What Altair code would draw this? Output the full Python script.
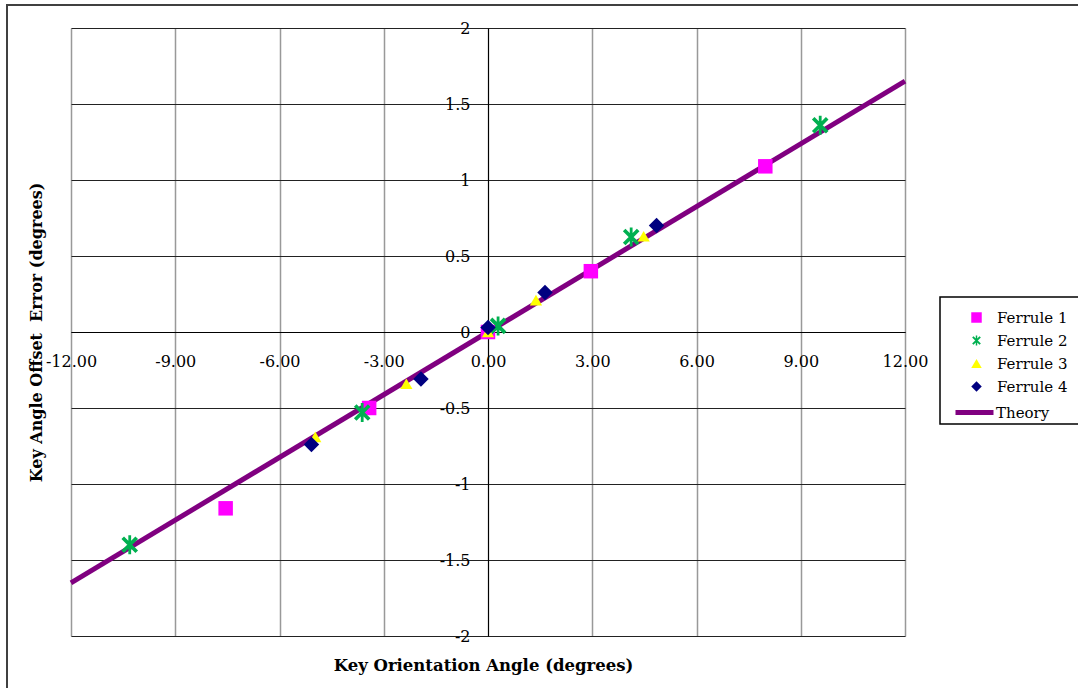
import altair as alt
import pandas as pd

# ---- data ----
x_ticks = [-12, -9, -6, -3, 0, 3, 6, 9, 12]
y_ticks = [-2, -1.5, -1, -0.5, 0, 0.5, 1, 1.5, 2]

series_names = ["Ferrule 1", "Ferrule 2", "Ferrule 3", "Ferrule 4"]
series_colors = ["#FF00FF", "#00B050", "#FFFF00", "#000080"]

f1_x = [-7.55, -3.42, 0.0, 2.96, 7.98]
f1_y = [-1.16, -0.50, 0.0, 0.40, 1.09]
f2_x = [-10.31, -3.62, 0.29, 4.12, 9.56]
f2_y = [-1.40, -0.53, 0.04, 0.625, 1.36]
f3_x = [-4.97, -2.35, 0.0, 1.38, 4.48]
f3_y = [-0.69, -0.34, 0.0, 0.21, 0.63]
f4_x = [-5.08, -1.93, 0.0, 1.64, 4.85]
f4_y = [-0.74, -0.31, 0.03, 0.26, 0.70]

theory_x = [-12, 12]
theory_y = [-1.65, 1.65]

rows = []
for name, xs, ys in zip(series_names, [f1_x, f2_x, f3_x, f4_x], [f1_y, f2_y, f3_y, f4_y]):
    for xv, yv in zip(xs, ys):
        rows.append({"series": name, "x": xv, "y": yv})
pts = pd.DataFrame(rows)
theory = pd.DataFrame({"x": theory_x, "y": theory_y, "series": ["Theory"] * len(theory_x)})
one = pd.DataFrame({"a": [0]})

W, H = 834, 608
FONT = "DejaVu Serif"
# filled asterisk (vertical bar + two diagonals), all sub-paths wound the same way
ASTERISK = (
    "M-0.14,-0.95L0.14,-0.95L0.14,0.95L-0.14,0.95Z"
    "M-0.57,-0.83L0.83,0.57L0.57,0.83L-0.83,-0.57Z"
    "M-0.83,0.57L0.57,-0.83L0.83,-0.57L-0.57,0.83Z"
)
marker_shapes = ["square", ASTERISK, "triangle-up", "diamond"]
marker_sizes = [210, 400, 150, 240]

xscale = alt.Scale(domain=[-12, 12], nice=False, zero=False)
yscale = alt.Scale(domain=[-2, 2], nice=False, zero=False)

x_axis = alt.Axis(
    values=x_ticks, orient="bottom", offset=-H / 2,
    labelExpr="(datum.value < 0 ? '-' : '') + format(abs(datum.value), '.2f')",
    labelFont=FONT, labelFontSize=16, labelColor="black", labelPadding=21,
    labelOverlap=False, labelFlush=False, labelBound=False,
    ticks=False, domainColor="black", domainWidth=1,
    grid=True, gridColor="#999999", gridWidth=1.5,
    title="Key Orientation Angle (degrees)", titleFont=FONT, titleFontSize=16.5,
    titleFontWeight="bold", titleColor="black", titleX=412, titleY=333,
    titleBaseline="middle",
)
y_axis = alt.Axis(
    values=y_ticks, orient="left", offset=-W / 2,
    labelExpr="datum.value < 0 ? '-' + abs(datum.value) : '' + datum.value",
    labelFont=FONT, labelFontSize=16, labelColor="black", labelPadding=18,
    labelOverlap=False, labelFlush=False, labelBound=False, labelBaseline="middle",
    ticks=False, domainColor="black", domainWidth=1,
    grid=True, gridColor="#222222", gridWidth=1,
    title="Key Angle Offset \u00a0Error (degrees)", titleFont=FONT, titleFontSize=16,
    titleFontWeight="bold", titleColor="black", titleX=-452, titleY=H / 2,
    titleAngle=270, titleBaseline="middle",
)

frame = alt.Chart(one).mark_rect(filled=False, stroke="#404040", strokeWidth=2).encode(
    x=alt.value(-64), x2=alt.value(1300), y=alt.value(-23), y2=alt.value(900)
)
legend_box = alt.Chart(one).mark_rect(filled=False, stroke="black", strokeWidth=1.5).encode(
    x=alt.value(869), x2=alt.value(1020), y=alt.value(269), y2=alt.value(396)
)

line = alt.Chart(theory).mark_line(strokeWidth=5).encode(
    x=alt.X("x:Q", scale=xscale, axis=x_axis),
    y=alt.Y("y:Q", scale=yscale, axis=y_axis),
    stroke=alt.Stroke(
        "series:N",
        scale=alt.Scale(domain=["Theory"], range=["#800080"]),
        legend=alt.Legend(
            title=None, orient="none", legendX=882, legendY=363,
            symbolType="stroke", symbolSize=1444, symbolStrokeWidth=5,
            labelOffset=0, padding=0, labelFont=FONT, labelFontSize=15, labelColor="black",
        ),
    ),
)

pt_legend = alt.Legend(
    title=None, orient="none", legendX=898, legendY=282,
    symbolSize=110, rowPadding=7, labelOffset=13, padding=0,
    labelFont=FONT, labelFontSize=15, labelColor="black",
)

color_enc = alt.Color("series:N", scale=alt.Scale(domain=series_names, range=series_colors), legend=pt_legend)
shape_enc = alt.Shape("series:N", scale=alt.Scale(domain=series_names, range=marker_shapes), legend=pt_legend)

point_layers = []
for name, msize in zip(series_names, marker_sizes):
    point_layers.append(
        alt.Chart(pts).transform_filter(alt.datum.series == name)
        .mark_point(filled=True, opacity=1, size=msize)
        .encode(
            x=alt.X("x:Q", scale=xscale, axis=x_axis),
            y=alt.Y("y:Q", scale=yscale, axis=y_axis),
            color=color_enc,
            shape=shape_enc,
        )
    )

chart = alt.layer(frame, legend_box, line, *point_layers).properties(
    width=W, height=H,
    autosize=alt.AutoSizeParams(type="none"),
    padding={"left": 71, "top": 28, "right": 1078 - 71 - W, "bottom": 688 - 28 - H},
).configure_view(stroke="black", strokeWidth=1.5).configure_legend(
    labelFont=FONT, labelFontSize=15, labelColor="black", symbolSize=110
).configure(background="white")

chart.save("out.html", embed_options={"renderer": "svg", "actions": False})
